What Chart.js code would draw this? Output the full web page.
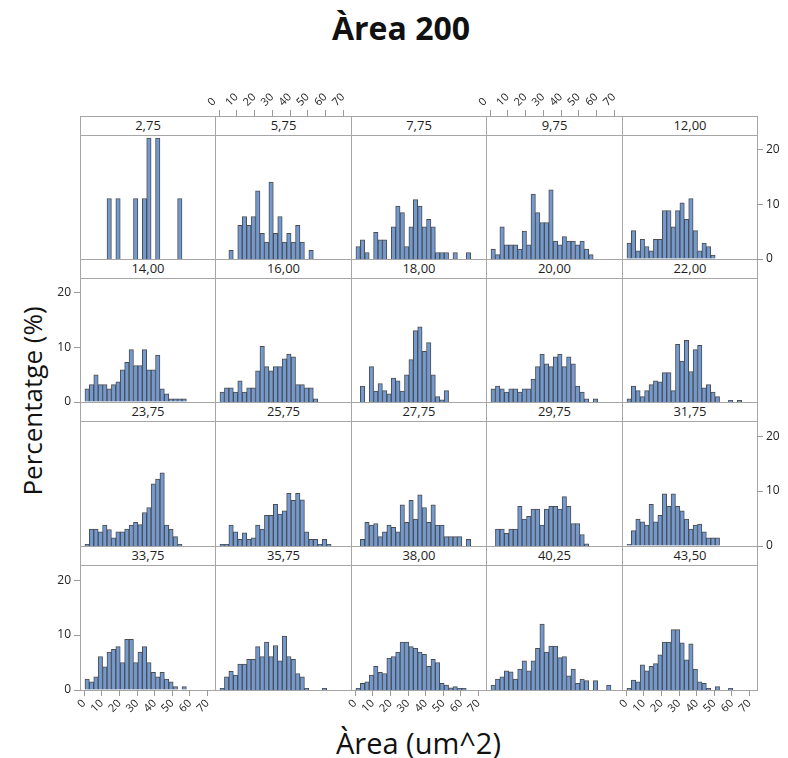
<!DOCTYPE html>
<html>
<head>
<meta charset="utf-8">
<script src="https://cdn.jsdelivr.net/npm/chart.js@4.4.1/dist/chart.umd.min.js"></script>
<style>
  body { margin: 0; background: #fff; font-family: 'Open Sans', sans-serif; }
  #page { position: relative; width: 788px; height: 758px; overflow: hidden; }
  .frame { position: absolute; box-sizing: border-box; border: 1px solid #a6a6a6; background: #fff; z-index: 0; }
  .head { position: absolute; box-sizing: border-box; border: 1px solid #a6a6a6; background: #fff; z-index: 0;
          text-align: center; font-size: 13px; line-height: 17px; color: #1e1e1e; }
  .cv { position: absolute; z-index: 2; }
  #title { position: absolute; left: 0; width: 802px; top: 6px; text-align: center; font-size: 32px; font-weight: 700; color: #111; }
  #xtitle { position: absolute; left: 80px; width: 677px; top: 723px; text-align: center; font-size: 29px; color: #111; }
  #ytitle { position: absolute; left: 32px; top: 401px; transform: translate(-50%, -50%) rotate(-90deg);
            white-space: nowrap; font-size: 26px; color: #111; }
</style>
</head>
<body>
<div id="page">
  <div id="title">Àrea 200</div>
  <div id="xtitle">Àrea (um^2)</div>
  <div id="ytitle">Percentatge (%)</div>
</div>
<script>
// panel labels (row by row)
const panelLabels = ['2,75', '5,75', '7,75', '9,75', '12,00',
                     '14,00', '16,00', '18,00', '20,00', '22,00',
                     '23,75', '25,75', '27,75', '29,75', '31,75',
                     '33,75', '35,75', '38,00', '40,25', '43,50'];

// histogram bin midpoints (bin width 2.5)
const binCenters = [1.75, 4.25, 6.75, 9.25, 11.75, 14.25, 16.75, 19.25, 21.75, 24.25,
                    26.75, 29.25, 31.75, 34.25, 36.75, 39.25, 41.75, 44.25, 46.75, 49.25,
                    51.75, 54.25, 56.75, 59.25, 61.75, 64.25, 66.75, 69.25];

const xTicks = [0, 10, 20, 30, 40, 50, 60, 70];
const yTicks = [0, 10, 20];

// percentages per bin, one array per panel
const p2_75  = [0, 0, 0, 0, 0, 11.1, 0, 11.1, 0, 0, 0, 11.1, 0, 11.1, 22.2, 0, 22.2, 0, 0, 0, 0, 11.1];
const p5_75  = [0, 0, 1.6, 0, 6.2, 7.8, 6.2, 7.8, 12.5, 4.7, 3.1, 14.1, 4.7, 7.8, 3.1, 4.7, 3.1, 6.2, 3.1, 0, 1.6];
const p7_75  = [2.3, 3.5, 1.2, 0, 4.9, 3.5, 3.5, 0, 5.9, 9.7, 8.5, 2.3, 5.9, 10.9, 9.7, 5.9, 7.3, 5.9, 1.2, 1.2, 1.2, 0, 1.2, 0, 0, 1.2];
const p9_75  = [1.8, 0.8, 5.9, 2.6, 2.6, 2.6, 1.8, 5.1, 2.6, 11.9, 8.5, 6.7, 6.7, 12.7, 3.3, 2.6, 4.1, 3.3, 3.3, 2.6, 3.3, 1.8, 0.8];
const p12_00 = [2.9, 5.2, 1.5, 3.6, 2.3, 1.5, 3.6, 3.6, 8.9, 8.9, 5.9, 8.9, 10.3, 7.3, 11.1, 5.2, 1.5, 2.9, 2.3, 0.7];
const p14_00 = [2.4, 3.2, 5.0, 3.2, 3.2, 2.4, 3.2, 3.7, 5.9, 7.3, 9.6, 6.7, 6.7, 9.6, 5.9, 5.9, 8.6, 2.4, 1.5, 0.6, 0.6, 0.6, 0.6];
const p16_00 = [1.8, 2.6, 2.6, 1.8, 3.9, 1.8, 2.6, 2.6, 5.7, 10.2, 6.5, 5.7, 6.5, 6.5, 7.9, 8.8, 8.3, 3.2, 3.2, 2.6, 2.6, 0.6];
const p18_00 = [0, 2.9, 0, 6.5, 2.0, 3.4, 2.1, 1.5, 4.4, 3.9, 2.0, 5.0, 7.8, 13.1, 13.8, 9.3, 10.9, 5.0, 1.0, 0.4, 2.1];
const p20_00 = [2.4, 2.9, 2.4, 1.8, 2.4, 2.4, 1.8, 2.4, 2.4, 4.2, 6.5, 8.8, 7.0, 6.5, 8.3, 8.8, 6.5, 8.3, 7.0, 2.9, 1.8, 0.6, 0, 0.6];
const p22_00 = [0.6, 2.9, 2.1, 1.0, 2.1, 3.2, 3.9, 3.7, 5.4, 5.4, 2.1, 10.6, 7.5, 11.3, 5.6, 9.6, 10.4, 2.6, 3.2, 1.8, 1.0, 0, 0, 0.3, 0, 0.3];
const p23_75 = [0.3, 3.1, 3.1, 2.6, 3.8, 3.0, 1.5, 2.6, 2.6, 3.1, 3.8, 4.3, 3.9, 6.1, 7.0, 11.3, 12.2, 13.3, 3.8, 3.1, 1.7, 0.3];
const p25_75 = [0.3, 0.3, 3.8, 2.6, 1.2, 2.4, 1.2, 1.5, 3.8, 3.1, 5.6, 5.6, 7.6, 5.8, 6.4, 9.6, 8.3, 9.6, 8.4, 2.6, 1.2, 1.2, 0.3, 1.2, 0.3];
const p27_75 = [0, 1.2, 4.3, 3.8, 4.1, 1.7, 2.6, 3.8, 3.4, 2.6, 7.5, 4.3, 8.3, 4.9, 9.3, 7.0, 4.3, 7.5, 3.8, 3.8, 1.7, 1.7, 1.7, 1.7, 0, 1.2];
const p29_75 = [0, 3.1, 3.1, 2.3, 3.1, 3.1, 7.2, 4.9, 5.4, 6.7, 6.7, 3.8, 6.7, 7.2, 7.2, 6.7, 9.0, 7.2, 4.1, 4.1, 2.1, 0.4];
const p31_75 = [0.3, 2.8, 4.9, 4.4, 3.8, 7.6, 4.4, 5.6, 9.5, 7.2, 9.5, 7.2, 6.4, 4.9, 3.1, 3.8, 4.0, 2.6, 1.5, 1.5, 1.5];
const p33_75 = [2.0, 1.5, 2.4, 6.1, 4.2, 6.9, 7.4, 7.9, 5.0, 9.2, 9.2, 5.0, 6.9, 7.9, 5.0, 3.2, 2.4, 3.2, 2.0, 1.5, 0.6, 0, 0.6];
const p35_75 = [0.3, 2.4, 3.4, 2.7, 4.7, 4.7, 5.6, 5.6, 7.9, 6.1, 8.7, 6.1, 8.1, 5.3, 9.8, 6.1, 5.6, 3.0, 2.4, 0.3, 0, 0, 0, 0.3];
const p38_00 = [0.3, 1.2, 1.5, 2.7, 4.3, 3.2, 3.0, 5.8, 6.1, 6.9, 8.7, 8.7, 7.9, 7.6, 6.9, 6.5, 4.3, 5.6, 5.0, 1.2, 0.9, 0.4, 0.6, 0.3, 0.3];
const p40_25 = [0.9, 2.0, 2.4, 3.5, 3.3, 2.0, 3.8, 5.3, 3.5, 5.3, 7.6, 12.0, 6.9, 8.0, 8.0, 5.9, 6.1, 2.6, 3.8, 1.2, 2.0, 1.7, 0, 1.7, 0, 0, 0.9];
const p43_50 = [0.3, 1.8, 1.5, 4.6, 3.5, 4.3, 4.8, 6.4, 8.7, 8.7, 11.0, 11.0, 8.6, 5.5, 8.4, 3.8, 1.5, 1.2, 0.3, 0, 0.6, 0, 0, 0.3];

const panelValues = [p2_75, p5_75, p7_75, p9_75, p12_00,
                     p14_00, p16_00, p18_00, p20_00, p22_00,
                     p23_75, p25_75, p27_75, p29_75, p31_75,
                     p33_75, p35_75, p38_00, p40_25, p43_50];

// layout of the trellis (page pixels)
const colLeft = [80, 215, 351, 486, 622, 757];
const rowTop = [116, 259, 402, 546, 690];
const HEAD = 19;          // strip height
const PADX = 40, PADY = 45;
const Y_MAX_PLOT = 22.75; // y value at top of plot region
const FONT = "'Open Sans', sans-serif";

const page = document.getElementById('page');

function addDiv(cls, x, y, w, h, text) {
  const d = document.createElement('div');
  d.className = cls;
  d.style.left = x + 'px';
  d.style.top = y + 'px';
  d.style.width = w + 'px';
  d.style.height = h + 'px';
  if (text) d.textContent = text;
  page.appendChild(d);
  return d;
}

panelLabels.forEach((label, i) => {
  const r = Math.floor(i / 5), c = i % 5;
  const x0 = colLeft[c], w = colLeft[c + 1] - x0;
  const y0 = rowTop[r], h = rowTop[r + 1] - y0;

  addDiv('frame', x0, y0, w + 1, h + 1);
  addDiv('head', x0, y0, w + 1, HEAD + 1, label);

  // which axes does this panel carry
  const yLeft = r % 2 === 1 && c === 0;
  const yRight = r % 2 === 0 && c === 4;
  const xTop = r === 0 && c % 2 === 1;
  const xBottom = r === 3 && c % 2 === 0;

  const wrap = addDiv('cv', x0 - PADX, y0 - PADY, w + 2 * PADX, h + 2 * PADY);
  const canvas = document.createElement('canvas');
  canvas.width = w + 2 * PADX;
  canvas.height = h + 2 * PADY;
  wrap.appendChild(canvas);

  const vals = panelValues[i];
  const data = binCenters.map((x, k) => ({ x: x, y: vals[k] || 0 }));
  const yMax = Y_MAX_PLOT * h / (h - HEAD);

  new Chart(canvas.getContext('2d'), {
    type: 'bar',
    data: {
      datasets: [{
        data: data,
        backgroundColor: '#7299d0',
        borderColor: '#4d4d4d',
        borderWidth: 1,
        borderSkipped: 'bottom',
        barPercentage: 1,
        categoryPercentage: 1
      }]
    },
    options: {
      responsive: false,
      animation: false,
      events: [],
      layout: {
        padding: {
          left: yLeft ? 0 : PADX,
          right: yRight ? 0 : PADX,
          top: xTop ? 0 : PADY,
          bottom: xBottom ? 0 : PADY
        }
      },
      plugins: { legend: { display: false }, tooltip: { enabled: false } },
      scales: {
        x: {
          type: 'linear',
          position: xTop ? 'top' : 'bottom',
          display: xTop || xBottom,
          min: -2.3,
          max: 74.2,
          offset: false,
          afterFit: s => { if (xTop || xBottom) s.height = PADY; },
          afterBuildTicks: s => { s.ticks = xTicks.map(v => ({ value: v })); },
          grid: { drawOnChartArea: false, drawTicks: true, tickLength: 6, color: '#9a9a9a', offset: false },
          border: { display: false },
          ticks: { autoSkip: false, minRotation: 45, maxRotation: 45, padding: 1, color: '#222',
                   font: { family: FONT, size: 11 } }
        },
        y: {
          position: yRight ? 'right' : 'left',
          display: yLeft || yRight,
          min: 0,
          max: yMax,
          afterFit: s => { if (yLeft || yRight) s.width = PADX; },
          afterBuildTicks: s => { s.ticks = yTicks.map(v => ({ value: v })); },
          grid: { drawOnChartArea: false, drawTicks: true, tickLength: 6, color: '#9a9a9a' },
          border: { display: false },
          ticks: { padding: 3, color: '#222', font: { family: FONT, size: 12 } }
        }
      }
    }
  });
});
</script>
</body>
</html>
